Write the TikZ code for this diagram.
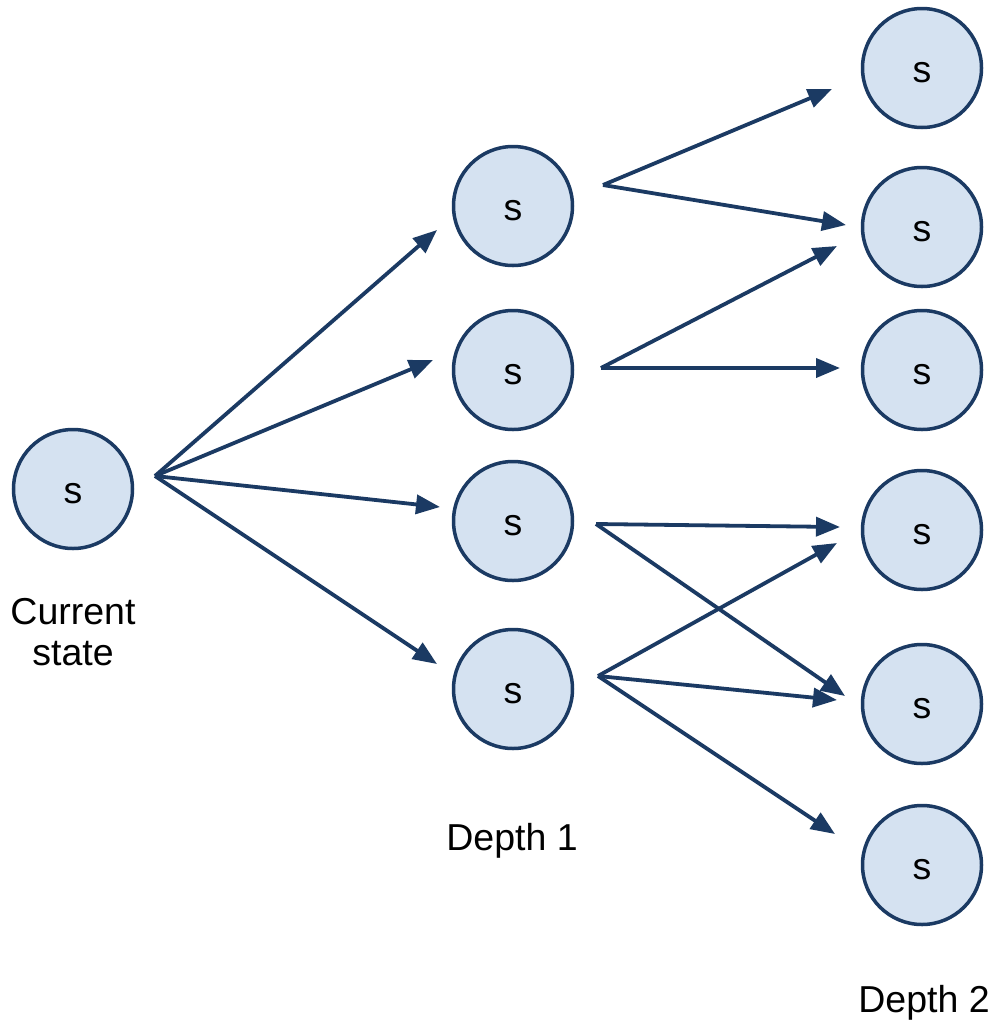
\documentclass[tikz,border=0pt]{standalone}
\usepackage{fontspec}
\setmainfont{Liberation Sans}
\usetikzlibrary{arrows.meta}
\definecolor{edgeblue}{HTML}{1B3A63}
\definecolor{fillblue}{HTML}{D5E2F1}
\tikzset{
  state/.style={circle, draw=edgeblue, fill=fillblue, line width=3.5pt, minimum size=119pt, inner sep=0pt, text height=28pt, text depth=0pt, font=\fontsize{37.5}{41}\selectfont},
  lbl/.style={font=\fontsize{37.5}{41}\selectfont, align=center, inner sep=0pt},
  arr/.style={draw=edgeblue, line width=3.8pt, -{Triangle[length=24pt,width=19pt]}},
}
\begin{document}
\begin{tikzpicture}[x=1pt,y=-1pt]
\useasboundingbox (0,0) rectangle (993,1021);
% nodes
\node[state] (c) at (73,489) {s};
\node[state] (a1) at (513,206) {s};
\node[state] (a2) at (513,370) {s};
\node[state] (a3) at (513,521) {s};
\node[state] (a4) at (513,689) {s};
\node[state] (b1) at (922,68) {s};
\node[state] (b2) at (922,227) {s};
\node[state] (b3) at (922,370) {s};
\node[state] (b4) at (922,530) {s};
\node[state] (b5) at (922,704) {s};
\node[state] (b6) at (922,865) {s};
% labels
\node[lbl, anchor=base] (lc) at (73,665) {Current\\state};
\node[lbl, anchor=base] (l1) at (512,850) {Depth 1};
\node[lbl, anchor=base] (l2) at (924,1012) {Depth 2};
% connector endpoints
\coordinate (sc) at (155,476);
\coordinate (t1) at (437,230);
\coordinate (t2) at (433,360);
\coordinate (t3) at (440,507);
\coordinate (t4) at (437,664);
\coordinate (s1) at (603,185);
\coordinate (s2) at (601,368);
\coordinate (s3) at (596,524);
\coordinate (s4) at (598,676);
\coordinate (u11) at (832,89);
\coordinate (u12) at (846,225);
\coordinate (u22) at (837,246);
\coordinate (u23) at (840,368);
\coordinate (u34) at (840,527);
\coordinate (u35) at (845,696);
\coordinate (u44) at (837,543);
\coordinate (u45) at (837,700);
\coordinate (u46) at (835,834);
% connectors
\draw[arr] (sc) -- (t1);
\draw[arr] (sc) -- (t2);
\draw[arr] (sc) -- (t3);
\draw[arr] (sc) -- (t4);
\draw[arr] (s1) -- (u11);
\draw[arr] (s1) -- (u12);
\draw[arr] (s2) -- (u22);
\draw[arr] (s2) -- (u23);
\draw[arr] (s3) -- (u34);
\draw[arr] (s3) -- (u35);
\draw[arr] (s4) -- (u44);
\draw[arr] (s4) -- (u45);
\draw[arr] (s4) -- (u46);
\end{tikzpicture}
\end{document}
